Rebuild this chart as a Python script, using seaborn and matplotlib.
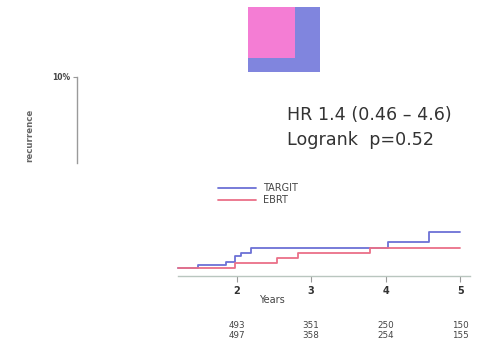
import matplotlib
matplotlib.use("Agg")
import matplotlib.pyplot as plt
from matplotlib.patches import Rectangle
import seaborn as sns
import pandas as pd

# ---- data ----
groups = ["TARGIT", "EBRT"]
targit_years = [1.22, 1.48, 1.86, 1.98, 2.06, 2.20, 4.03, 4.58, 5.0]
targit_pct = [0.40, 0.55, 0.70, 1.00, 1.15, 1.40, 1.70, 2.20, 2.20]
ebrt_years = [1.22, 1.98, 2.54, 2.82, 3.79, 5.0]
ebrt_pct = [0.40, 0.65, 0.90, 1.15, 1.40, 1.40]
x_ticks = [2, 3, 4, 5]
at_risk_targit = [493, 351, 250, 150]
at_risk_ebrt = [497, 358, 254, 155]
hr_text = "HR 1.4 (0.46 \u2013 4.6)"
logrank_text = "Logrank  p=0.52"

df = pd.concat([
    pd.DataFrame({"Years": targit_years, "pct": targit_pct, "group": "TARGIT"}),
    pd.DataFrame({"Years": ebrt_years, "pct": ebrt_pct, "group": "EBRT"}),
], ignore_index=True)

sns.set_style("white")
plt.rcParams["font.family"] = ["DejaVu Sans"]

W, H = 486, 358
fig = plt.figure(figsize=(W / 100, H / 100), dpi=100)

def fx(px):
    return px / W

def fy(py):
    return 1 - py / H

# main axes: x from px 77 to 470, y from 276 (0%) to 77 (10%)
x_left_px, x_right_px = 77, 470
y_bot_px, y_top_px = 276, 77
ax = fig.add_axes([fx(x_left_px), fy(y_bot_px), fx(x_right_px - x_left_px),
                   (y_bot_px - y_top_px) / H])
px_per_year = 74.6
x0 = 2 + (x_left_px - 236.5) / px_per_year
x1 = 2 + (x_right_px - 236.5) / px_per_year

palette = {"TARGIT": "#6c71d6", "EBRT": "#ea7088"}
sns.lineplot(data=df, x="Years", y="pct", hue="group", hue_order=groups,
             palette=palette, estimator=None, sort=True,
             drawstyle="steps-post", linewidth=1.3, ax=ax, legend=True)

ax.set_xlim(x0, x1)
ax.set_ylim(0, 10)
for s in ["top", "right"]:
    ax.spines[s].set_visible(False)
ax.spines["bottom"].set_bounds(1.22, x1)
ax.spines["bottom"].set_color("#b9c6bf")
ax.spines["bottom"].set_linewidth(1.0)
ax.spines["left"].set_bounds(5.7, 10)
ax.spines["left"].set_color("#9a9a9a")
ax.spines["left"].set_linewidth(1.0)

ax.set_xticks(x_ticks)
ax.set_xticklabels([str(t) for t in x_ticks], fontsize=7, color="#333333",
                   fontweight="bold")
ax.set_yticks([10])
ax.set_yticklabels(["10%"], fontsize=5.5, color="#444444", fontweight="bold")
ax.tick_params(axis="x", direction="out", length=4, width=0.8, color="#999999", pad=3,
               bottom=True)
ax.tick_params(axis="y", direction="out", length=3, width=0.8, color="#999999", pad=2,
               left=True)
ax.set_xlabel("")
ax.set_ylabel("")

# y label fragment
fig.text(fx(30), fy(135), "recurrence", rotation=90, fontsize=6.2, color="#666666",
         ha="center", va="center", fontweight="bold")

def data_y(py):
    return (y_bot_px - py) * 10 / (y_bot_px - y_top_px)

# x label
ax.text(2 + (272 - 236.5) / px_per_year, data_y(300), "Years", fontsize=7,
        color="#444444", ha="center", va="center", clip_on=False)

# numbers at risk
for t, a, b in zip(x_ticks, at_risk_targit, at_risk_ebrt):
    ax.text(t, data_y(326), str(a), fontsize=6.3, color="#444444", ha="center",
            va="center", clip_on=False)
    ax.text(t, data_y(336), str(b), fontsize=6.3, color="#444444", ha="center",
            va="center", clip_on=False)

# HR text
fig.text(fx(287), fy(115), hr_text, fontsize=12.6, color="#333333", ha="left",
         va="center")
fig.text(fx(287), fy(140), logrank_text, fontsize=12.6, color="#333333", ha="left",
         va="center")

# legend
leg = ax.legend(loc="upper left", bbox_to_anchor=(fx(218), fy(183)),
                bbox_transform=fig.transFigure, frameon=False, fontsize=7,
                handlelength=3.9, handletextpad=0.7, labelspacing=0.25,
                borderpad=0, borderaxespad=0)
for t in leg.get_texts():
    t.set_color("#444444")

# decorative colour square at top
fig.add_artist(Rectangle((fx(248), fy(72)), fx(72), (72 - 7) / H,
                         transform=fig.transFigure, facecolor="#8085de",
                         edgecolor="none"))
fig.add_artist(Rectangle((fx(248), fy(58)), fx(47), (58 - 7) / H,
                         transform=fig.transFigure, facecolor="#f47dd4",
                         edgecolor="none"))

fig.savefig("out.png", dpi=100)
